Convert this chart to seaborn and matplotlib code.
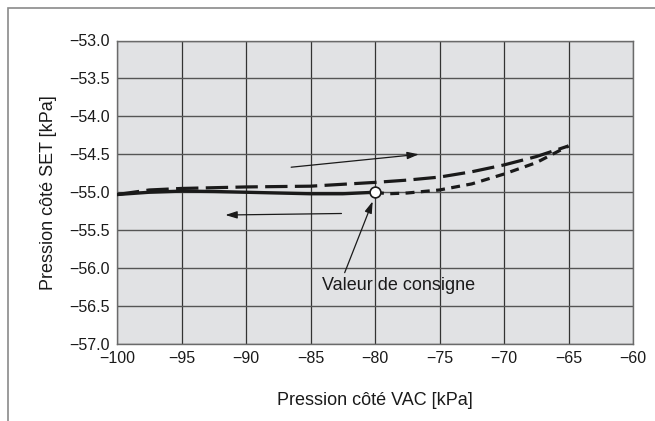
import matplotlib
matplotlib.use("Agg")
import matplotlib.pyplot as plt
import matplotlib.patches as mpatches
import numpy as np
import pandas as pd
import seaborn as sns

# ---------------- data ----------------
solid_x = [-100, -97.5, -95, -92.5, -90, -87.5, -85, -82.5, -80]
solid_y = [-55.03, -55.0, -54.985, -54.99, -55.0, -55.01, -55.02, -55.02, -55.0]

long_x = [-100, -97.5, -95, -90, -85, -80, -77.5, -75, -72.5, -70, -67.5, -65]
long_y = [-55.03, -54.97, -54.95, -54.93, -54.92, -54.87, -54.84, -54.80, -54.73, -54.64, -54.53, -54.39]

short_x = [-80, -79, -77.5, -75, -72.5, -70, -67.5, -65]
short_y = [-55.0, -55.02, -55.01, -54.97, -54.89, -54.76, -54.61, -54.39]

set_point_x = [-80]
set_point_y = [-55.0]

x_ticks = [-100, -95, -90, -85, -80, -75, -70, -65, -60]
x_tick_labels = ["\u2212100", "\u221295", "\u221290", "\u221285", "\u221280",
                 "\u221275", "\u221270", "\u221265", "\u221260"]
y_ticks = [-57.0, -56.5, -56.0, -55.5, -55.0, -54.5, -54.0, -53.5, -53.0]
y_tick_labels = ["\u221257.0", "\u221256.5", "\u221256.0", "\u221255.5", "\u221255.0",
                 "\u221254.5", "\u221254.0", "\u221253.5", "\u221253.0"]

x_label = "Pression côté VAC [kPa]"
y_label = "Pression côté SET [kPa]"
annot_text = "Valeur de consigne"

# ---------------- style ----------------
sns.set_style("white")
plt.rcParams['font.family'] = ['Liberation Sans', 'DejaVu Sans']

fig = plt.figure(figsize=(6.55, 4.21), dpi=100)
ax = fig.add_axes([117 / 655, 1 - 344 / 421, (633 - 117) / 655, (344 - 40.5) / 421])
ax.set_facecolor("#e1e2e4")

df_solid = pd.DataFrame({"x": solid_x, "y": solid_y})
df_long = pd.DataFrame({"x": long_x, "y": long_y})
df_short = pd.DataFrame({"x": short_x, "y": short_y})

sns.lineplot(data=df_long, x="x", y="y", ax=ax, color="#1a1a1a", lw=2.3, sort=False, zorder=4)
ax.lines[-1].set_dashes((7, 2.3))
sns.lineplot(data=df_short, x="x", y="y", ax=ax, color="#1a1a1a", lw=2.3, sort=False, zorder=4)
ax.lines[-1].set_dashes((2.8, 2.0))
sns.lineplot(data=df_solid, x="x", y="y", ax=ax, color="#1a1a1a", lw=2.4, sort=False, zorder=5)
sns.scatterplot(x=set_point_x, y=set_point_y, ax=ax, s=60, color="white",
                edgecolor="#1a1a1a", linewidth=1.2, zorder=6)

# arrows
arr = dict(arrowstyle="-|>,head_length=0.7,head_width=0.22", color="#1a1a1a", lw=0.9,
           shrinkA=0, shrinkB=0)
ax.annotate("", xy=(-76.6, -54.50), xytext=(-86.5, -54.67), arrowprops=arr, zorder=5)
ax.annotate("", xy=(-91.6, -55.30), xytext=(-82.6, -55.28), arrowprops=arr, zorder=5)
ax.annotate("", xy=(-80.18, -55.12), xytext=(-82.35, -56.06), arrowprops=arr, zorder=5)
ax.text(-84.1, -56.23, annot_text, fontsize=13, color="#1a1a1a", ha="left", va="center", zorder=6)

ax.set_xlim(-100, -60)
ax.set_ylim(-57, -53)
ax.set_xticks(x_ticks)
ax.set_xticklabels(x_tick_labels)
ax.set_yticks(y_ticks)
ax.set_yticklabels(y_tick_labels)
ax.tick_params(axis="both", length=0, labelsize=11.5, colors="#1a1a1a", pad=5)
ax.xaxis.grid(True, color="#333333", lw=0.9)
ax.yaxis.grid(True, color="#555555", lw=1.0)
ax.set_axisbelow(True)
for s in ax.spines.values():
    s.set_color("#6a6a6a")
    s.set_linewidth(1.0)
    s.set_visible(True)

ax.set_xlabel(x_label, fontsize=13, color="#1a1a1a", labelpad=19)
ax.set_ylabel(y_label, fontsize=13, color="#1a1a1a", labelpad=9)

# outer frame (left & top lines)
frame = mpatches.Rectangle((7.5 / 655, -0.2), 1.2, 1.2 - 8 / 421, transform=fig.transFigure,
                           fill=False, edgecolor="#8a8a8a", lw=1.2, clip_on=False)
fig.add_artist(frame)

fig.savefig("out.png", dpi=100, facecolor="white")
